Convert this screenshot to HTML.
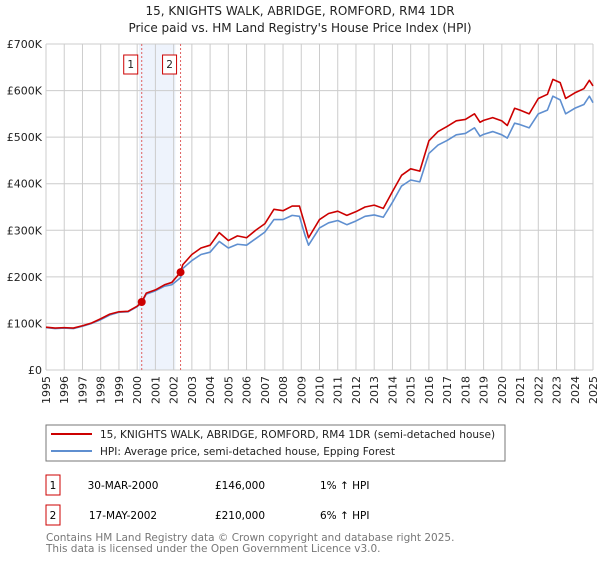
<!DOCTYPE html>
<html><head><meta charset="utf-8"><style>
body{margin:0;background:#fff;font-family:"DejaVu Sans","Liberation Sans",sans-serif;}
svg text{font-family:"DejaVu Sans","Liberation Sans",sans-serif;}
</style></head><body>
<svg id="chart" width="600" height="560" viewBox="0 0 600 560">
<text x="300" y="15" text-anchor="middle" font-size="12" fill="#222">15, KNIGHTS WALK, ABRIDGE, ROMFORD, RM4 1DR</text>
<text x="300" y="32" text-anchor="middle" font-size="12" fill="#222">Price paid vs. HM Land Registry's House Price Index (HPI)</text>
<g id="grid"></g>
<g id="marks"></g>
<g id="axes"></g>
<rect x="46" y="425" width="459" height="36" fill="#fff" stroke="#777"/>
<line x1="51" y1="434" x2="92" y2="434" stroke="#cc0000" stroke-width="2"/>
<text x="100" y="438" font-size="10.5" fill="#222">15, KNIGHTS WALK, ABRIDGE, ROMFORD, RM4 1DR (semi-detached house)</text>
<line x1="51" y1="451" x2="92" y2="451" stroke="#5f8fd0" stroke-width="2"/>
<text x="100" y="455" font-size="10.5" fill="#222">HPI: Average price, semi-detached house, Epping Forest</text>
<g>
<rect x="46" y="475" width="14" height="20" fill="#fff" stroke="#cc0000"/>
<text x="53" y="489" text-anchor="middle" font-size="10.5">1</text>
<text x="123" y="489" text-anchor="middle" font-size="10.5">30-MAR-2000</text>
<text x="240" y="489" text-anchor="middle" font-size="10.5">£146,000</text>
<text x="320" y="489" font-size="10.5">1% ↑ HPI</text>
</g>
<g>
<rect x="46" y="505" width="14" height="20" fill="#fff" stroke="#cc0000"/>
<text x="53" y="519" text-anchor="middle" font-size="10.5">2</text>
<text x="123" y="519" text-anchor="middle" font-size="10.5">17-MAY-2002</text>
<text x="240" y="519" text-anchor="middle" font-size="10.5">£210,000</text>
<text x="320" y="519" font-size="10.5">6% ↑ HPI</text>
</g>
<text x="46" y="541" font-size="10.5" fill="#777">Contains HM Land Registry data © Crown copyright and database right 2025.</text>
<text x="46" y="552" font-size="10.5" fill="#777">This data is licensed under the Open Government Licence v3.0.</text>
</svg>
<script>
const dates=[1995.0,1995.5,1996.0,1996.5,1997.0,1997.5,1998.0,1998.5,1999.0,1999.5,2000.0,2000.25,2000.5,2001.0,2001.5,2001.9,2002.38,2002.5,2003.0,2003.5,2004.0,2004.5,2005.0,2005.5,2006.0,2006.5,2007.0,2007.5,2008.0,2008.5,2008.9,2009.2,2009.4,2010.0,2010.5,2011.0,2011.5,2012.0,2012.5,2013.0,2013.5,2014.0,2014.5,2015.0,2015.5,2016.0,2016.5,2017.0,2017.5,2018.0,2018.5,2018.8,2019.0,2019.5,2020.0,2020.3,2020.7,2021.0,2021.5,2022.0,2022.5,2022.8,2023.2,2023.5,2024.0,2024.5,2024.8,2025.0];
const hpiValues=[91,89,90,89,94,100,108,118,124,125,136,145,163,170,180,183,198,218,235,248,253,276,262,270,268,282,296,323,323,332,330,290,268,305,316,321,312,320,330,333,328,360,395,408,404,465,483,493,505,508,520,502,506,512,505,498,530,527,520,550,558,588,580,550,562,570,588,574];
const propertyValues=[92,90,91,90,95,101,110,120,125,126,137,146,165,172,183,188,210,226,248,262,268,295,278,288,284,300,314,345,342,352,352,312,284,323,336,341,332,340,350,354,347,383,418,432,427,492,512,523,535,538,550,532,536,542,535,525,562,558,550,583,592,624,617,583,595,604,622,610];
const yTicks=[0,100,200,300,400,500,600,700];
const yTickLabels=["£0","£100K","£200K","£300K","£400K","£500K","£600K","£700K"];
const xTicks=[1995,1996,1997,1998,1999,2000,2001,2002,2003,2004,2005,2006,2007,2008,2009,2010,2011,2012,2013,2014,2015,2016,2017,2018,2019,2020,2021,2022,2023,2024,2025];
const saleDates=[2000.25,2002.38];
const salePrices=[146,210];
const saleLabels=["1","2"];

const NS="http://www.w3.org/2000/svg";
const X0=46,X1=593,Y0=370,Y1=44;
const xs=t=>X0+(t-1995)/30*(X1-X0);
const ys=v=>Y0-v/700*(Y0-Y1);
function mk(tag,attrs,parent){const e=document.createElementNS(NS,tag);for(const k in attrs)e.setAttribute(k,attrs[k]);parent.appendChild(e);return e;}
const grid=document.getElementById('grid'),marks=document.getElementById('marks'),axes=document.getElementById('axes');
// shaded band
const band=mk('rect',{x:xs(2000.1),y:Y1,width:xs(2002.1)-xs(2000.1),height:Y0-Y1,fill:'#eef3fc'},grid);


yTicks.forEach((v,i)=>{
 const l=mk('line',{x1:X0,x2:X1,y1:ys(v),y2:ys(v),stroke:'#ccc','stroke-width':1},grid);
 
 
 const t=mk('text',{x:X0-4,y:ys(v)+4,'text-anchor':'end','font-size':11,fill:'#222'},axes);
 t.textContent=yTickLabels[i];
 
 
});
xTicks.forEach(y=>{
 const l=mk('line',{x1:xs(y),x2:xs(y),y1:Y1,y2:Y0,stroke:'#ccc','stroke-width':1},grid);
 
 
 const t=mk('text',{x:0,y:0,'text-anchor':'end','font-size':11,fill:'#222',transform:`translate(${xs(y)+4},376) rotate(-90)`},axes);
 t.textContent=y;
 
 
});
saleDates.forEach((d,i)=>{
 const l=mk('line',{x1:xs(d),x2:xs(d),y1:Y1,y2:Y0,stroke:'#e06060','stroke-width':1,'stroke-dasharray':'2,2'},marks);
 
 
 const r=mk('rect',{x:xs(d)-18,y:55,width:14,height:19,fill:'#fff',stroke:'#cc0000'},marks);
 
 
 const t=mk('text',{x:xs(d)-11,y:68,'text-anchor':'middle','font-size':10.5,fill:'#222'},marks);
 t.textContent=saleLabels[i];
 
 
});
function line(vals,color,name){
 const p=mk('polyline',{points:dates.map((d,i)=>xs(d)+','+ys(vals[i])).join(' '),fill:'none',stroke:color,'stroke-width':1.6,'stroke-linejoin':'round'},marks);
 
 
}
line(hpiValues,'#5f8fd0','hpi-line');
line(propertyValues,'#cc0000','property-line');
saleDates.forEach((d,i)=>{
 const c=mk('circle',{cx:xs(d),cy:ys(salePrices[i]),r:4,fill:'#cc0000'},marks);
 
 
});
</script>
</body></html>
